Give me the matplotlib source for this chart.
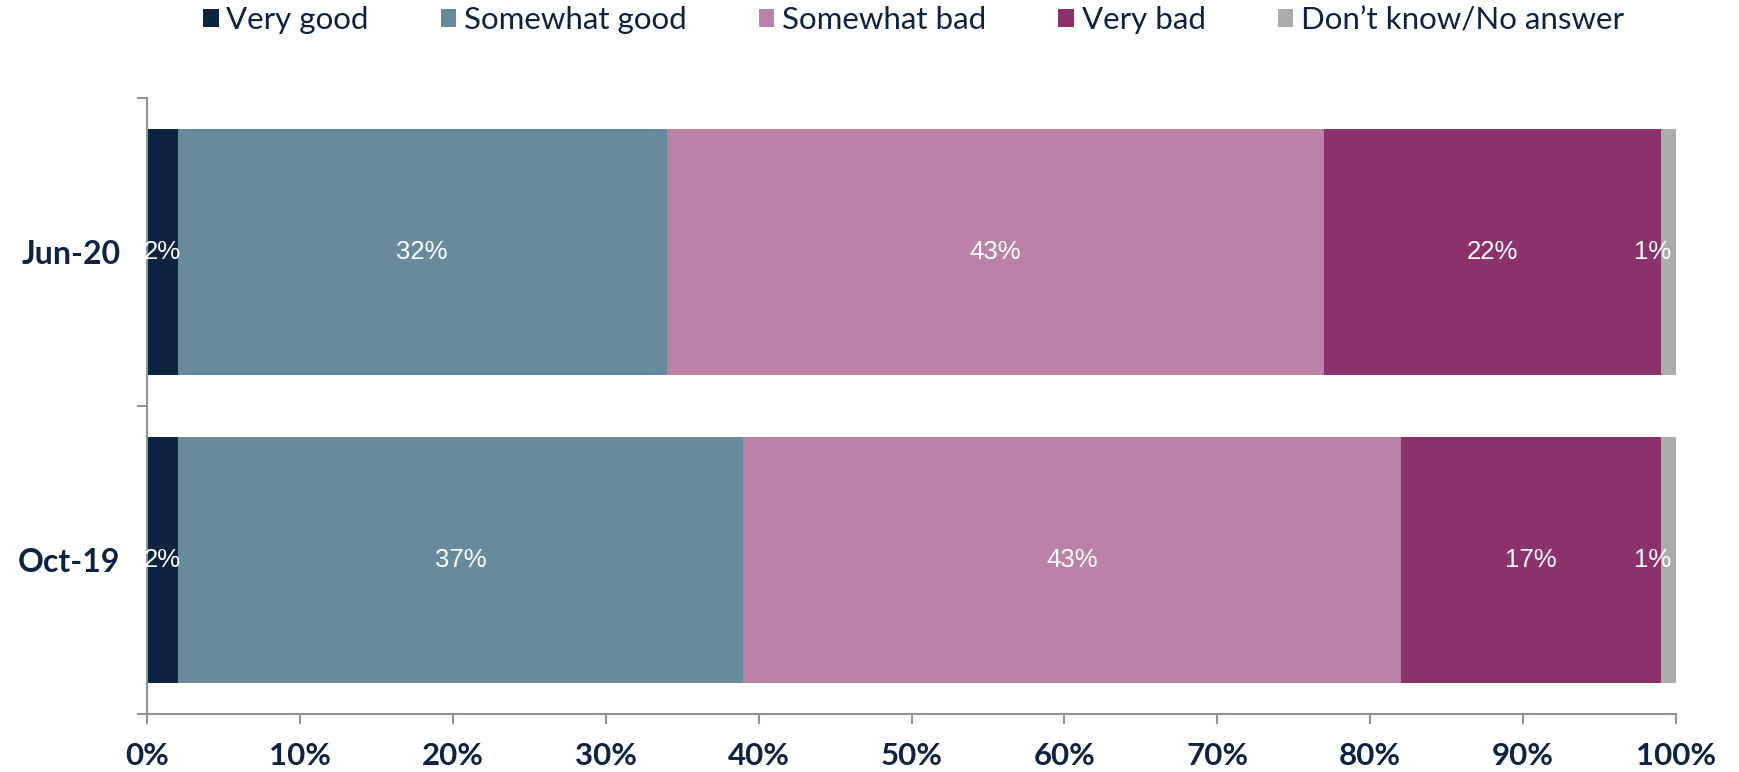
import matplotlib as mpl
mpl.use('Agg')
import matplotlib.pyplot as plt
from matplotlib.ticker import FixedLocator, PercentFormatter
import numpy as np

# survey rows, bottom to top
periods = ['Oct-19', 'Jun-20']
categories = ['Very good', 'Somewhat good', 'Somewhat bad', 'Very bad', 'Don\u2019t know/No answer']
very_good = [2, 2]
somewhat_good = [37, 32]
somewhat_bad = [43, 43]
very_bad = [17, 22]
dont_know = [1, 1]

colors = ['#0E2340', '#678A9D', '#BA82A7', '#8B316B', '#ABABAB']
navy = '#0E2340'
axis_gray = '#8C939C'

plt.rcParams['font.family'] = ['Lato', 'DejaVu Sans']

fig = plt.figure(figsize=(17.39, 7.72), dpi=100)
ax = fig.add_axes([147 / 1739, 58 / 772, (1676 - 147) / 1739, (714 - 98) / 772])

series = [very_good, somewhat_good, somewhat_bad, very_bad, dont_know]
y = np.arange(len(periods))
left = np.zeros(len(periods))
for vals, name, col in zip(series, categories, colors):
    vals = np.array(vals, dtype=float)
    ax.barh(y, vals, left=left, height=0.8, color=col, label=name)
    for yi, (l, v) in enumerate(zip(left, vals)):
        if v < 1.5 and l > 90:
            # tiny last segment: label sits just inside the end
            ax.text(l + v * 0.7, yi, f'{v:.0f}%', ha='right', va='center',
                    color='white', fontsize=18.5, family='Liberation Sans')
        else:
            ax.text(l + v / 2, yi, f'{v:.0f}%', ha='center', va='center',
                    color='white', fontsize=18.5, family='Liberation Sans')
    left += vals

ax.set_xlim(0, 100)
ax.set_ylim(-0.5, 1.5)
ax.xaxis.set_major_locator(FixedLocator(np.arange(0, 101, 10)))
ax.xaxis.set_major_formatter(PercentFormatter(decimals=0))
ax.set_yticks(y)
ax.set_yticklabels(periods)
ax.yaxis.set_minor_locator(FixedLocator([-0.5, 0.5, 1.5]))

for s in ['top', 'right']:
    ax.spines[s].set_visible(False)
for s in ['left', 'bottom']:
    ax.spines[s].set_color(axis_gray)
    ax.spines[s].set_linewidth(1.5)

ax.tick_params(axis='x', direction='out', length=7, width=1.5, color=axis_gray,
               pad=13, labelsize=22.5, labelcolor=navy)
ax.tick_params(axis='y', which='major', length=0, pad=19, labelsize=23, labelcolor=navy)
ax.tick_params(axis='y', which='minor', direction='out', length=7, width=1.5, color=axis_gray)
for lbl in ax.get_xticklabels() + ax.get_yticklabels():
    lbl.set_fontweight('bold')

leg = fig.legend(loc='center', bbox_to_anchor=(0.5253, 0.974), ncol=5, frameon=False,
                 fontsize=22.5, handlelength=0.5, handleheight=0.5, handletextpad=0.25,
                 columnspacing=2.3, borderaxespad=0)
for t in leg.get_texts():
    t.set_color(navy)

fig.savefig('out.png', dpi=100)
